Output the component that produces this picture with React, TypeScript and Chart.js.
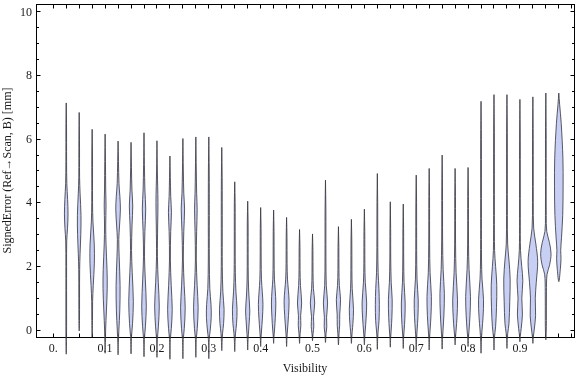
import React, { useEffect, useRef } from "react";
import { Chart, registerables } from "chart.js";

Chart.register(...registerables);

// Violin centres (Visibility)
const positions = [
  0.025, 0.05, 0.075, 0.1, 0.125, 0.15, 0.175, 0.2, 0.225, 0.25,
  0.275, 0.3, 0.325, 0.35, 0.375, 0.4, 0.425, 0.45, 0.475, 0.5,
  0.525, 0.55, 0.575, 0.6, 0.625, 0.65, 0.675, 0.7, 0.725, 0.75,
  0.775, 0.8, 0.825, 0.85, 0.875, 0.9, 0.925, 0.95, 0.975,
];

// Largest signed error of each violin [mm]
const maxValues = [
  7.14, 6.84, 6.31, 6.16, 5.94, 5.9, 6.2, 5.95, 5.47, 6.02,
  6.07, 6.07, 5.74, 4.66, 4.05, 3.85, 3.77, 3.54, 3.16, 3.02,
  4.71, 3.25, 3.48, 3.8, 4.92, 4.03, 3.96, 4.87, 5.08, 5.5,
  5.08, 5.11, 7.19, 7.4, 7.4, 7.25, 7.33, 7.45, 7.45,
];

// Smallest signed error of each violin [mm]
const minValues = [
  -0.76, -0.03, -0.22, -0.73, -0.78, -0.75, -0.84, -0.86, -0.92, -0.9,
  -0.86, -0.9, -0.65, -0.68, -0.63, -0.52, -0.42, -0.52, -0.42, -0.34,
  -0.39, -0.47, -0.42, -0.47, -0.61, -0.54, -0.58, -0.63, -0.63, -0.6,
  -0.47, -0.52, -0.73, -0.63, -0.58, -0.37, -0.42, -0.31, 1.52,
];

// Estimated density profile of each violin: [signed error, relative density]
const profiles: number[][][] = [
  [[6.5,0.3],[5.3,0.35],[4.6,0.6],[4.1,1.4],[3.65,1.8],[3.2,1.3],[2.8,0.5],[2.0,0.35],[0.5,0.35],[-0.3,0.3]],
  [[6.0,0.3],[4.8,0.4],[4.3,0.9],[3.6,1.8],[3.0,1.6],[2.4,0.9],[1.9,0.45],[1.0,0.35],[0.3,0.3]],
  [[5.5,0.35],[4.0,0.4],[3.4,0.8],[2.7,2.1],[2.1,2.2],[1.4,1.1],[0.9,0.45],[0.3,0.35]],
  [[5.3,0.35],[4.4,0.6],[3.9,0.9],[3.3,0.6],[2.7,0.9],[1.9,1.9],[1.3,2.1],[0.6,1.3],[0.0,0.5],[-0.4,0.3]],
  [[5.3,0.4],[4.6,0.9],[4.2,1.8],[3.8,2.3],[3.3,1.5],[2.85,0.7],[2.3,1.1],[1.4,2.0],[0.6,1.7],[0.0,0.8],[-0.4,0.3]],
  [[5.1,0.4],[4.4,0.9],[3.9,1.7],[3.3,1.0],[2.5,0.5],[1.8,1.2],[0.9,2.3],[0.2,1.5],[-0.2,0.5]],
  [[5.2,0.4],[4.4,0.9],[3.8,1.7],[3.1,0.9],[2.3,0.5],[1.6,1.3],[0.75,2.3],[0.1,1.4],[-0.3,0.4]],
  [[5.0,0.4],[4.0,1.0],[3.3,0.7],[2.3,0.45],[1.5,1.3],[0.75,2.3],[0.1,1.4],[-0.3,0.4]],
  [[4.8,0.4],[4.2,0.8],[3.7,1.5],[3.1,0.8],[2.2,0.45],[1.4,1.3],[0.65,2.3],[0.05,1.4],[-0.3,0.4]],
  [[5.0,0.45],[4.3,0.9],[3.8,1.7],[3.1,0.9],[2.2,0.45],[1.4,1.3],[0.7,2.3],[0.05,1.4],[-0.3,0.4]],
  [[5.0,0.45],[4.3,0.8],[3.8,1.3],[3.1,0.8],[2.2,0.45],[1.4,1.3],[0.7,2.3],[0.05,1.4],[-0.3,0.4]],
  [[5.0,0.4],[3.6,0.5],[2.2,0.5],[1.3,1.0],[0.8,2.2],[0.4,2.4],[0.0,1.4],[-0.3,0.4]],
  [[4.8,0.4],[3.2,0.5],[2.0,0.5],[1.2,1.1],[0.65,2.3],[0.2,1.8],[-0.1,0.8],[-0.35,0.35]],
  [[4.0,0.4],[2.8,0.45],[1.8,0.6],[1.2,1.2],[0.65,2.3],[0.2,1.8],[-0.1,0.8],[-0.35,0.35]],
  [[3.4,0.4],[2.4,0.45],[1.6,0.6],[1.1,1.2],[0.6,2.1],[0.25,1.5],[0.0,1.0],[-0.3,0.35]],
  [[3.2,0.4],[2.2,0.5],[1.6,0.8],[1.2,1.6],[0.8,2.3],[0.35,1.7],[0.0,0.9],[-0.25,0.35]],
  [[3.1,0.4],[2.2,0.5],[1.6,0.8],[1.25,1.6],[0.85,2.2],[0.4,1.7],[0.0,0.9],[-0.2,0.35]],
  [[2.9,0.4],[2.1,0.5],[1.6,0.9],[1.25,1.8],[0.9,2.5],[0.45,1.9],[0.0,0.9],[-0.25,0.35]],
  [[2.6,0.4],[1.9,0.5],[1.4,0.9],[0.85,2.1],[0.45,1.1],[0.15,1.3],[-0.1,0.6],[-0.25,0.3]],
  [[2.5,0.4],[1.8,0.5],[1.3,0.9],[0.85,2.2],[0.42,1.0],[0.12,1.3],[-0.1,0.6],[-0.2,0.3]],
  [[3.8,0.4],[2.3,0.45],[1.4,0.8],[0.85,2.1],[0.4,1.1],[0.1,1.3],[-0.1,0.6],[-0.25,0.3]],
  [[2.6,0.4],[1.9,0.5],[1.4,0.9],[0.95,2.1],[0.5,1.3],[0.15,1.2],[-0.1,0.6],[-0.3,0.3]],
  [[2.8,0.4],[1.9,0.5],[1.3,0.8],[0.65,2.1],[0.2,1.5],[-0.05,0.8],[-0.25,0.3]],
  [[3.1,0.4],[2.1,0.5],[1.5,0.9],[0.85,2.3],[0.35,1.7],[0.0,0.9],[-0.25,0.35]],
  [[4.0,0.35],[2.6,0.45],[1.8,0.8],[1.3,1.6],[0.8,2.0],[0.3,1.7],[0.0,0.9],[-0.25,0.35]],
  [[3.2,0.35],[2.2,0.45],[1.5,0.9],[0.95,1.9],[0.4,1.6],[0.0,0.9],[-0.25,0.35]],
  [[3.2,0.35],[2.2,0.45],[1.5,0.8],[0.85,1.9],[0.35,1.6],[0.0,0.9],[-0.25,0.35]],
  [[4.0,0.35],[2.5,0.45],[1.6,0.8],[0.95,2.0],[0.4,1.7],[0.0,0.9],[-0.3,0.35]],
  [[4.2,0.35],[2.7,0.45],[1.8,0.9],[1.05,2.2],[0.45,1.8],[0.0,0.9],[-0.3,0.35]],
  [[4.5,0.35],[2.8,0.45],[1.9,1.0],[1.15,2.2],[0.5,1.8],[0.0,0.9],[-0.3,0.35]],
  [[4.2,0.35],[2.7,0.45],[1.8,1.0],[0.95,2.4],[0.4,1.9],[0.0,1.0],[-0.25,0.35]],
  [[4.2,0.35],[2.7,0.45],[1.9,1.0],[1.05,2.4],[0.45,1.9],[0.0,1.0],[-0.25,0.35]],
  [[6.0,0.35],[3.5,0.4],[2.2,0.5],[1.6,1.0],[0.95,2.5],[0.4,2.0],[0.0,1.0],[-0.35,0.35]],
  [[6.2,0.35],[3.6,0.4],[2.5,0.6],[2.0,1.6],[1.4,2.8],[0.7,2.5],[0.1,1.6],[-0.25,0.4]],
  [[6.2,0.35],[3.6,0.4],[2.7,0.7],[2.2,2.0],[1.6,3.2],[0.9,2.8],[0.2,2.0],[-0.1,0.8],[-0.3,0.35]],
  [[6.0,0.35],[3.5,0.4],[2.5,0.6],[2.0,1.8],[1.55,2.9],[1.0,1.9],[0.5,2.5],[0.05,1.3],[-0.2,0.35]],
  [[6.0,0.35],[4.0,0.4],[3.2,0.8],[2.7,3.0],[2.15,4.8],[1.5,3.4],[1.0,2.4],[0.45,2.7],[0.0,1.3],[-0.25,0.35]],
  [[6.0,0.35],[3.6,0.4],[3.1,0.9],[2.75,3.6],[2.4,5.2],[2.05,3.8],[1.75,1.2],[1.2,0.6],[0.3,0.55],[-0.1,0.35]],
  [[7.1,0.8],[6.5,2.4],[5.4,4.1],[4.5,4.3],[3.6,3.9],[2.9,2.7],[2.5,1.9],[2.25,2.2],[1.9,1.5]],
];

// Axis ticks and labels
const xTickValues = [0, 0.1, 0.2, 0.3, 0.4, 0.5, 0.6, 0.7, 0.8, 0.9];
const xTickLabels = ["0.", "0.1", "0.2", "0.3", "0.4", "0.5", "0.6", "0.7", "0.8", "0.9"];
const yTickValues = [0, 2, 4, 6, 8, 10];
const yTickLabels = ["0", "2", "4", "6", "8", "10"];
const xMinorStep = 0.025;
const yMinorStep = 0.5;

const X_MIN = -0.0333;
const X_MAX = 1.0043;
const Y_MIN = -0.22;
const Y_MAX = 10.25;
const densityScale = 1 / 518.5; // x-units per density unit

const FILL = "rgb(200,207,245)";
const STROKE = "rgba(55,55,65,0.82)";
const FONT = "12px 'Liberation Serif', 'DejaVu Serif', serif";
const TEXT = "#1a1a1a";

const frameAndAxes = {
  id: "frameAndAxes",
  beforeDatasetsDraw(chart: any) {
    const { ctx, chartArea: a, scales } = chart;
    const xs = scales.x;
    const ys = scales.y;
    const L = a.left + 0.5;
    const R = a.right + 0.5;
    const T = a.top + 0.5;
    const B = a.bottom + 0.5;
    ctx.save();
    ctx.strokeStyle = "#000";
    ctx.lineWidth = 1;
    ctx.strokeRect(L, T, R - L, B - T);

    ctx.beginPath();
    // x ticks (every 0.025), inward on bottom and top
    for (let k = 0; k <= Math.round(1 / xMinorStep); k++) {
      const v = k * xMinorStep;
      if (v < X_MIN || v > X_MAX) continue;
      const p = Math.floor(xs.getPixelForValue(v)) + 0.5;
      ctx.moveTo(p, B);
      ctx.lineTo(p, B - 4);
      ctx.moveTo(p, T);
      ctx.lineTo(p, T + 4);
    }
    // y ticks
    for (let k = 0; k <= Math.round(10 / yMinorStep); k++) {
      const v = k * yMinorStep;
      const major = Math.abs(v - Math.round(v / 2) * 2) < 1e-9;
      const len = major ? 4 : 2.5;
      const p = Math.floor(ys.getPixelForValue(v)) + 0.5;
      ctx.moveTo(L, p);
      ctx.lineTo(L + len, p);
      ctx.moveTo(R, p);
      ctx.lineTo(R - len, p);
    }
    ctx.stroke();

    ctx.fillStyle = TEXT;
    ctx.font = FONT;
    ctx.textAlign = "center";
    ctx.textBaseline = "alphabetic";
    xTickValues.forEach((v, i) => {
      ctx.fillText(xTickLabels[i], xs.getPixelForValue(v), 352);
    });
    ctx.textAlign = "right";
    ctx.textBaseline = "middle";
    yTickValues.forEach((v, i) => {
      ctx.fillText(yTickLabels[i], 32, ys.getPixelForValue(v) + 0.5);
    });

    ctx.textAlign = "center";
    ctx.textBaseline = "alphabetic";
    ctx.fillText("Visibility", (a.left + a.right) / 2, 372);

    ctx.save();
    ctx.translate(8, (a.top + a.bottom) / 2);
    ctx.rotate(-Math.PI / 2);
    ctx.textBaseline = "middle";
    ctx.fillText("SignedError (Ref\u2192Scan, B) [mm]", 0, 0);
    ctx.restore();

    ctx.restore();
  },
};

export default function App() {
  const ref = useRef<HTMLCanvasElement>(null);
  useEffect(() => {
    document.body.style.margin = "0";
    const datasets = positions.map((c, i) => {
      const knots = [[maxValues[i], 0], ...profiles[i], [minValues[i], 0]];
      const right = knots.map(([v, d]) => ({ x: c + d * densityScale, y: v }));
      const left = knots
        .slice(0, -1)
        .reverse()
        .map(([v, d]) => ({ x: c - d * densityScale, y: v }));
      return {
        data: [...right, ...left],
        showLine: true,
        fill: "shape",
        backgroundColor: FILL,
        borderColor: STROKE,
        borderWidth: 1,
        pointRadius: 0,
        pointHoverRadius: 0,
        pointHitRadius: 0,
        tension: 0.35,
        capBezierPoints: false,
        clip: false,
      };
    });
    const chart = new Chart(ref.current as HTMLCanvasElement, {
      type: "scatter",
      data: { datasets: datasets as any },
      options: {
        responsive: false,
        animation: false,
        devicePixelRatio: 1,
        events: [],
        layout: { padding: { left: 36, top: 4, right: 2, bottom: 40 } },
        plugins: { legend: { display: false }, tooltip: { enabled: false } },
        elements: { line: { capBezierPoints: false } },
        scales: {
          x: { type: "linear", min: X_MIN, max: X_MAX, display: false },
          y: { type: "linear", min: Y_MIN, max: Y_MAX, display: false },
        },
      } as any,
      plugins: [frameAndAxes],
    });
    return () => chart.destroy();
  }, []);
  return (
    <div style={{ position: "absolute", left: 0, top: 0, width: 576, height: 377 }}>
      <canvas
        ref={ref}
        width={576}
        height={377}
        style={{ width: 576, height: 377, display: "block" }}
      />
    </div>
  );
}
